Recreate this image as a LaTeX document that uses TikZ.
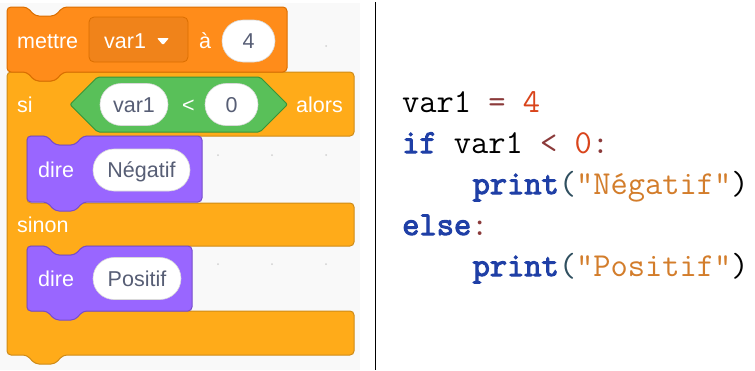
\documentclass[tikz,border=0pt]{standalone}
\usepackage{fontspec}
\setmainfont{Liberation Sans}
\newfontfamily\codefont{Latin Modern Mono}[BoldFont={Latin Modern Mono}, BoldFeatures={FakeBold=3}]
\usetikzlibrary{shapes.misc}
\definecolor{setfill}{HTML}{FF8C1A}
\definecolor{setline}{HTML}{DB6E00}
\definecolor{ddfill}{HTML}{F0831A}
\definecolor{ctrlfill}{HTML}{FFAB19}
\definecolor{ctrlline}{HTML}{CF8B17}
\definecolor{opfill}{HTML}{59C059}
\definecolor{opline}{HTML}{389438}
\definecolor{looksfill}{HTML}{9966FF}
\definecolor{looksline}{HTML}{774DCB}
\definecolor{pilltext}{HTML}{575E75}
\definecolor{bgpanel}{HTML}{F9F9F9}
\definecolor{kw}{HTML}{1F3FA6}
\definecolor{opc}{HTML}{8B3A3A}
\definecolor{numc}{HTML}{D9441B}
\definecolor{strc}{HTML}{D37D2B}
\definecolor{parenc}{HTML}{2F4F5F}
\tikzset{
  blk/.style={line width=1pt, rounded corners=4pt},
  lbl/.style={inner sep=0pt, anchor=west, text=white, font=\fontsize{21.5pt}{25pt}\selectfont, text height=15.4pt, text depth=0pt},
  pill/.style={rounded rectangle, fill=white, draw=black!15, line width=0.6pt, minimum height=42pt, inner sep=0pt, text=pilltext, font=\fontsize{21.5pt}{25pt}\selectfont, text height=15.4pt, text depth=0pt},
  codeline/.style={inner sep=0pt, anchor=base west, font=\codefont\fontsize{33.5pt}{40pt}\selectfont},
  gdot/.style={fill=black!18, draw=none}
}
\begin{document}
\begin{tikzpicture}[x=1pt,y=-1pt]
\useasboundingbox (0,0) rectangle (755,370);
\fill[white] (0,0) rectangle (755,370);
\fill[bgpanel] (0,3) rectangle (360,370);
% grid dots
\foreach \px/\py in {326/46,218/155,272/155,326/155,218/264,272/264,326/264}
  \fill[gdot] (\px,\py) circle (1pt);
% separator
\draw[line width=1.5pt] (375.5,2) -- (375.5,370);

% if-else C block
\draw[blk, fill=ctrlfill, draw=ctrlline]
  (7,72) -- (27,72) -- (35,81) -- (55,81) -- (63,72) -- (354,72) -- (354,136)
  -- (83,136) -- (75,145) -- (55,145) -- (47,136) -- (27,136) -- (27,203)
  -- (354,203) -- (354,246) -- (83,246) -- (75,255) -- (55,255) -- (47,246)
  -- (27,246) -- (27,311) -- (354,311) -- (354,355) -- (63,355) -- (55,364)
  -- (35,364) -- (27,355) -- (7,355) -- cycle;

% set block
\draw[blk, fill=setfill, draw=setline]
  (7,7) -- (27,7) -- (35,16) -- (55,16) -- (63,7) -- (287,7) -- (287,72)
  -- (63,72) -- (55,81) -- (35,81) -- (27,72) -- (7,72) -- cycle;
\node[lbl] (mettre) at (17,41) {mettre};
\draw[fill=ddfill, draw=setline, line width=0.8pt, rounded corners=5pt] (89,17) rectangle (188,62);
\node[lbl] (ddvar) at (104,41) {var1};
\fill[white, rounded corners=1pt] (157,38) -- (169,38) -- (163,45) -- cycle;
\node[lbl] (a) at (199,41) {à};
\node[pill, minimum width=53pt] (four) at (248.5,41) {4};

% condition
\node[lbl] (si) at (17,104.5) {si};
\draw[fill=opfill, draw=opline, line width=1pt, rounded corners=2pt]
  (70,104.5) -- (97.5,77) -- (260,77) -- (287.5,104.5) -- (260,132) -- (97.5,132) -- cycle;
\node[pill, minimum width=68pt] (cvar) at (134,104.5) {var1};
\node[lbl] (lt) at (182,104.5) {<};
\node[pill, minimum width=53pt] (zero) at (231.5,104.5) {0};
\node[lbl] (alors) at (296,104.5) {alors};

% dire 1
\draw[blk, fill=looksfill, draw=looksline]
  (27,136) -- (47,136) -- (55,145) -- (75,145) -- (83,136) -- (202,136) -- (202,202)
  -- (83,202) -- (75,211) -- (55,211) -- (47,202) -- (27,202) -- cycle;
\node[lbl] (dire1) at (38,170) {dire};
\node[pill, minimum width=97pt] (neg) at (141.5,170) {Négatif};

\node[lbl] (sinon) at (17,224.5) {sinon};

% dire 2
\draw[blk, fill=looksfill, draw=looksline]
  (27,246) -- (47,246) -- (55,255) -- (75,255) -- (83,246) -- (192,246) -- (192,311)
  -- (83,311) -- (75,320) -- (55,320) -- (47,311) -- (27,311) -- cycle;
\node[lbl] (dire2) at (38,278.5) {dire};
\node[pill, minimum width=88pt] (pos) at (137,278.5) {Positif};

% code
\node[codeline] (l1) at (402,112) {var1 {\color{opc}=} {\color{numc}4}};
\node[codeline] (l2) at (402,153) {{\bfseries\color{kw}if} var1 {\color{opc}<} {\color{numc}0}{\color{opc}:}};
\node[codeline] (l3) at (472.4,194) {{\bfseries\color{kw}print}{\color{parenc}(}{\color{strc}"Négatif"})};
\node[codeline] (l4) at (402,235) {{\bfseries\color{kw}else}{\color{opc}:}};
\node[codeline] (l5) at (472.4,276) {{\bfseries\color{kw}print}{\color{parenc}(}{\color{strc}"Positif"})};
\end{tikzpicture}
\end{document}
